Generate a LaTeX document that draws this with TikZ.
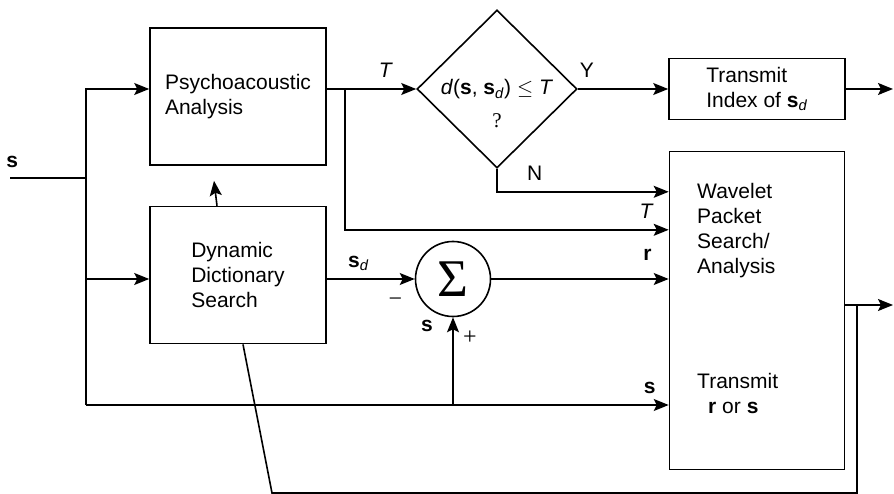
\documentclass[tikz,border=0pt]{standalone}
\usepackage{fontspec}
\setmainfont{Liberation Sans}
\newfontfamily\serifsym{Liberation Serif}
\usetikzlibrary{shapes.geometric, positioning, arrows.meta, calc}
\tikzset{
  block/.style={rectangle, draw=black, line width=1.6pt, minimum width=176pt, align=left},
  decision/.style={diamond, draw=black, line width=1.6pt, minimum width=160pt, minimum height=158pt, inner sep=0pt, aspect=1},
  adder/.style={circle, draw=black, line width=1.6pt, minimum size=75pt, inner sep=0pt},
  arrow/.style={line width=1.6pt, -{Stealth[length=15pt, width=12pt, inset=3pt]}},
  wire/.style={line width=1.6pt},
  sgn/.style={font=\serifsym\fontsize{24}{26}\selectfont}
}
\newcommand{\sig}{\textbf{s}}
\newcommand{\sigd}{\textbf{s}\textsubscript{\textit{d}}}

\begin{document}
\begin{tikzpicture}[x=1pt, y=-1pt, every node/.style={font=\fontsize{21}{25}\selectfont}]
        \useasboundingbox (0,0) rectangle (894,494);

        % Bloques
        \node (psycho) [block, minimum height=137pt] at (238,96.5) {Psychoacoustic\\Analysis};
        \node (dyn) [block, minimum height=137pt, below=40pt of psycho] {Dynamic\\Dictionary\\Search};
        \node (cond) [decision] at (497,89) {};
        \node (condtext) [align=center] at ($(cond)+(0,15)$) {\textit{d}(\sig, \sigd) $\leq$ \textit{T}\\[8pt]{\serifsym\fontsize{21}{23}\selectfont ?}};
        \node (tidx) [block, minimum height=61pt] at (757,89) {Transmit\\Index of \sigd};
        \node (wps) [block, minimum width=175pt, minimum height=318pt, below=30.5pt of tidx] {};
        \node (wpstop) [anchor=north west, align=left] at ($(wps.north west)+(25,29)$) {Wavelet\\Packet\\Search/\\Analysis};
        \node (wpsbot) [anchor=north west, align=left] at ($(wps.north west)+(25,219)$) {Transmit\\\hspace*{11pt}\textbf{r} or \sig};
        \node (sum) [adder] at (453,279) {\serifsym\fontsize{53}{53}\selectfont Σ};

        % Puntos de paso
        \coordinate (sin) at (10,178);
        \coordinate (top) at (86,89);
        \coordinate (bot) at (86,405);
        \coordinate (tb) at (345,89);
        \coordinate (nin) at ($(wps.north west)+(0,41)$);
        \coordinate (tin) at ($(wps.north west)+(0,79)$);
        \coordinate (out1) at (893,89);
        \coordinate (out2) at (893,305);
        \coordinate (fb) at (857,305);
        \coordinate (fbc) at (272,493);

        % Entrada s
        \draw [wire] (sin) -- node[pos=0.03, above=6pt] {\sig} (sin -| top);
        \draw [arrow] (bot) -- (top) -- (top -| psycho.west);
        \draw [arrow] (top |- sum) -- (dyn.west |- sum);
        \draw [arrow] (bot) -- node[pos=1, above left=7pt and 9pt] {\sig} (bot -| wps.west);
        \draw [arrow] (bot -| sum) -- node[pos=0.9, left=16pt] {\sig} node[pos=0.77, right=6pt, sgn] {+} (sum.south);
        \draw [arrow] ([xshift=-21pt]dyn.north) -- ($(psycho.south)+(-24,15)$);

        % Umbral T y decision
        \draw [arrow] (psycho.east |- cond.west) -- node[pos=0.66, above=7pt] {\textit{T}} (cond.west);
        \draw [arrow] (tb) |- node[pos=1, above left=7pt and 11pt] {\textit{T}} (tin);
        \draw [arrow] (cond.east) -- node[pos=0.1, above=7.5pt] {Y} (tidx.west);
        \draw [arrow] (cond.south) |- node[pos=0.61, above=7.5pt] {N} (nin);
        \draw [arrow] (tidx.east) -- (out1);

        % Residuo r
        \draw [arrow] (dyn.east |- sum) -- node[pos=0.36, above=4pt] {\sigd} node[pos=0.78, below=15pt, sgn] {−} (sum.west);
        \draw [arrow] (sum.east) -- node[pos=1, above left=14pt and 13pt] {\textbf{r}} (wps.west |- sum);

        % Salida y realimentacion
        \draw [arrow] (out2 -| wps.east) -- (out2);
        \draw [wire] (fb) |- (fbc) -- ([xshift=5pt]dyn.south);

    \end{tikzpicture}
\end{document}
